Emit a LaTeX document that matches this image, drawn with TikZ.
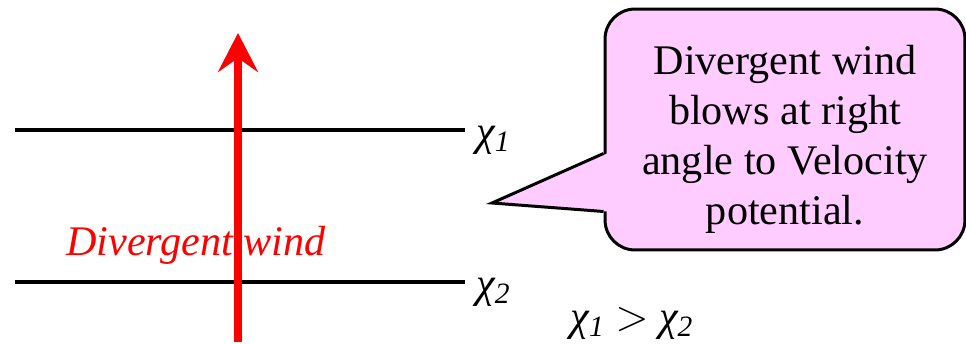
\documentclass[tikz,border=0pt]{standalone}
\usepackage{fontspec}
\setmainfont{LiberationSerif}[Extension=.ttf, UprightFont=*-Regular, ItalicFont=*-Italic, BoldFont=*-Bold, BoldItalicFont=*-BoldItalic]
\usetikzlibrary{arrows.meta,positioning,calc}
\definecolor{windred}{HTML}{FF0000}
\definecolor{bubblepink}{HTML}{FFCCFF}
\tikzset{
  txt/.style={inner sep=0pt, font=\rmfamily\fontsize{24}{28.5}\selectfont},
  potline/.style={line width=2.3pt, black},
  windarrow/.style={-{Stealth[length=0.78cm,width=0.8cm,inset=0.28cm]}, line width=4.5pt, windred},
  bubble/.style={rectangle, rounded corners=0.6cm, draw=black, line width=1.7pt, fill=bubblepink,
    minimum width=7.2cm, minimum height=4.82cm},
  bubbletext/.style={txt, align=center}
}
\newcommand{\chilab}[1]{\textit{χ\textsubscript{#1}}}
\begin{document}
\begin{tikzpicture}[x=0.02cm, y=0.02cm]
  \useasboundingbox (0,0) rectangle (966,343);
  % velocity potential contours
  \coordinate (c1w) at (15,213);
  \coordinate (c1e) at (465,213);
  \coordinate (c2w) at (15,61);
  \coordinate (c2e) at (465,61);
  \draw[potline] (c1w) -- (c1e);
  \draw[potline] (c2w) -- (c2e);
  \node[txt, anchor=west] (chione) at (476,203) {\chilab{1}};
  \node[txt, anchor=west] (chitwo) at (476,51) {\chilab{2}};
  \node[txt] (ratio) at (632,20) {\chilab{1} $>$ \chilab{2}};
  % divergent wind
  \node[txt, text=windred, font=\rmfamily\fontsize{24}{28.5}\selectfont\itshape] (windlab) at (196,98) {Divergent wind};
  \coordinate (windfoot) at (238,1);
  \coordinate (windtop) at (238,310);
  \draw[windarrow] (windfoot) -- (windtop);
  % callout
  \node[bubble] (note) at (785,213.5) {};
  \node[bubbletext] (notetext) at ([yshift=-0.2cm]note.center) {Divergent wind\\blows at right\\angle to Velocity\\potential.};
  \coordinate (tip) at (492,140);
  \fill[bubblepink] ([yshift=0.8cm,xshift=2pt]note.south west) -- (tip) -- ([yshift=1.96cm,xshift=2pt]note.south west) -- cycle;
  \draw[line width=1.7pt, line join=miter] ([yshift=1.96cm]note.south west) -- (tip) -- ([yshift=0.8cm]note.south west);
\end{tikzpicture}
\end{document}
